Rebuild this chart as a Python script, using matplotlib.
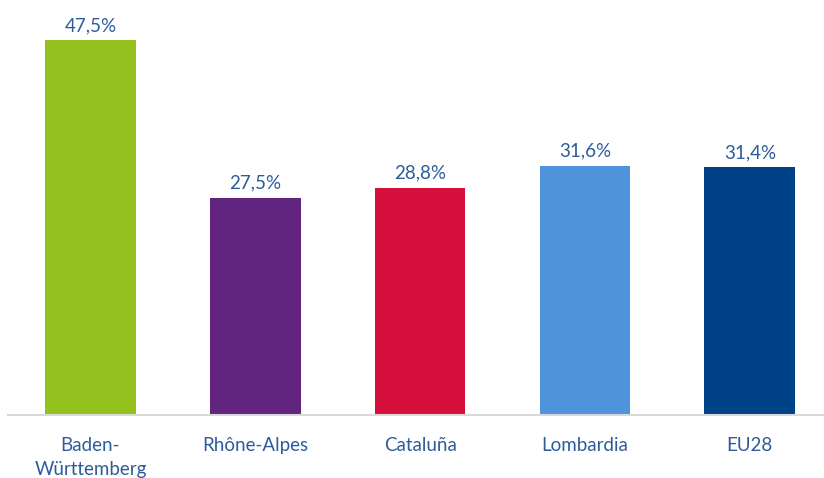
import matplotlib
matplotlib.use('Agg')
import matplotlib.pyplot as plt

regions = ['Baden-\nWürttemberg', 'Rhône-Alpes', 'Cataluña', 'Lombardia', 'EU28']
values = [47.5, 27.5, 28.8, 31.6, 31.4]
colors = ['#95C11F', '#62257F', '#D60F3C', '#4F93DA', '#004287']
text_color = '#2E5C9A'

plt.rcParams['font.family'] = ['Lato', 'DejaVu Sans']

fig = plt.figure(figsize=(8.24, 4.78), dpi=100)
W, H = 824, 478
# axes in pixel coordinates: left 8, baseline at y=415, right 824
ax = fig.add_axes([8 / W, (H - 415) / H, (824 - 8) / W, 410 / H])

x = list(range(len(regions)))
ax.bar(x, values, width=0.55, color=colors, zorder=2)
ax.set_xlim(-0.5, 4.45)
ax.set_ylim(0, 410 / 7.89)

for xi, v in zip(x, values):
    ax.text(xi, v + 0.8, f'{v:.1f}%'.replace('.', ','), ha='center', va='bottom',
            fontsize=13.5, color=text_color)

ax.set_xticks(x)
ax.set_xticklabels(regions, fontsize=13.5, color=text_color, va='top', linespacing=1.45)
ax.tick_params(axis='x', length=0, pad=16)
ax.set_yticks([])

for s in ['top', 'right', 'left']:
    ax.spines[s].set_visible(False)
ax.spines['bottom'].set_color('#D9D9D9')
ax.spines['bottom'].set_linewidth(1.5)

fig.savefig('out.png', dpi=100)
